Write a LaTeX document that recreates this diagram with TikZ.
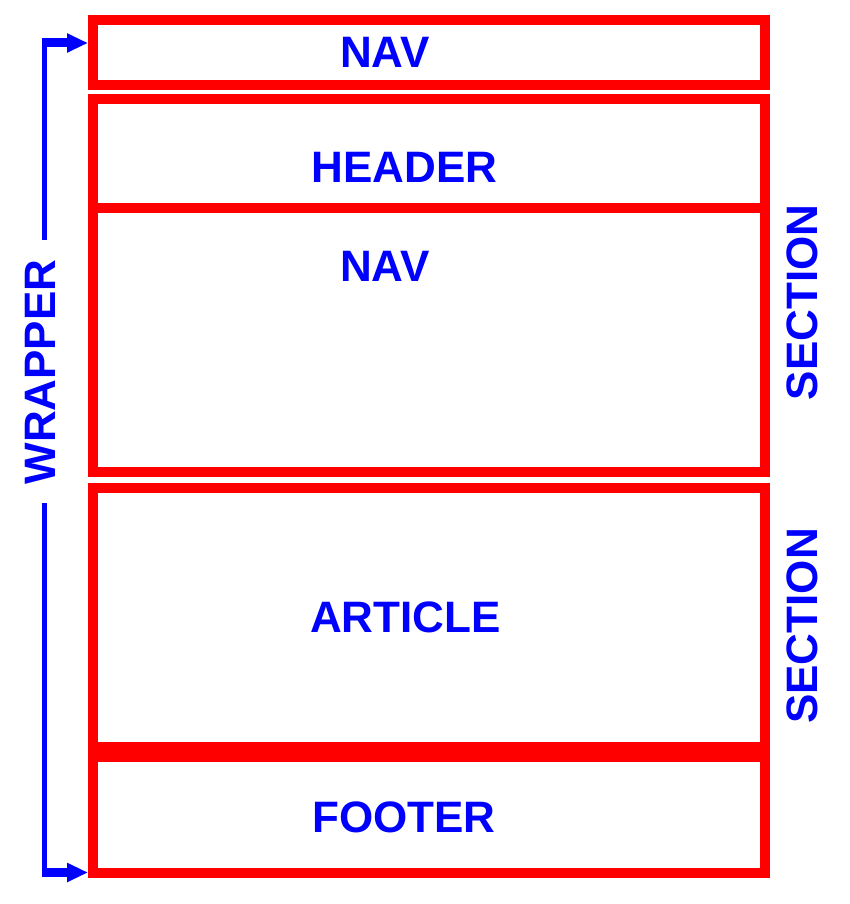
\documentclass[tikz,border=0pt]{standalone}
\usepackage{fontspec}
\setmainfont{Liberation Sans}
\usetikzlibrary{arrows.meta}
\definecolor{boxred}{RGB}{255,0,0}
\definecolor{txtblue}{RGB}{0,0,255}
\tikzset{
  box/.style={draw=boxred, line width=10pt, inner sep=0pt, outer sep=5pt, minimum width=672pt},
  lab/.style={text=txtblue, inner sep=0pt, font=\fontsize{44}{50}\selectfont\bfseries},
  wire/.style={draw=txtblue, line width=5pt},
  tip/.style={draw=txtblue, fill=txtblue, line width=9pt, -{Triangle[length=21pt,width=18pt]}}
}
\begin{document}
\begin{tikzpicture}[x=1pt,y=-1pt]
\useasboundingbox (0,0) rectangle (850,904);
% boxes
\node[box, minimum height=65pt]  (nav)    at (429,52.5)  {};
\node[box, minimum height=373pt] (sec1)   at (429,285.5) {};
\node[box, minimum height=259pt] (sec2)   at (429,617.5) {};
\node[box, minimum height=116pt] (footer) at (429,815)   {};
\draw[boxred, line width=10pt] (sec1.west |- 0,208) -- (sec1.east |- 0,208);
% labels
\node[lab] (tnav)    at (385,52.5)  {NAV};
\node[lab] (thead)   at (404.5,167) {HEADER};
\node[lab] (tnav2)   at (385,266)   {NAV};
\node[lab] (tart)    at (405.5,617) {ARTICLE};
\node[lab] (tfoot)   at (404,817)   {FOOTER};
\node[lab, rotate=90] (twrap) at (40,372)    {WRAPPER};
\node[lab, rotate=90] (tsec1) at (802.5,302.5) {SECTION};
\node[lab, rotate=90] (tsec2) at (802.5,626)   {SECTION};
% wrapper arrows
\coordinate (wtop) at (44.5,240);
\coordinate (wbot) at (44.5,503);
\coordinate (ctop) at (42,43);
\coordinate (cbot) at (42,872.5);
\draw[wire] (wtop) -- (wtop |- 0,38.5);
\draw[wire] (wbot) -- (wbot |- 0,877);
\draw[tip] (ctop) -- (nav.west |- ctop);
\draw[tip] (cbot) -- (footer.west |- cbot);
\end{tikzpicture}
\end{document}
